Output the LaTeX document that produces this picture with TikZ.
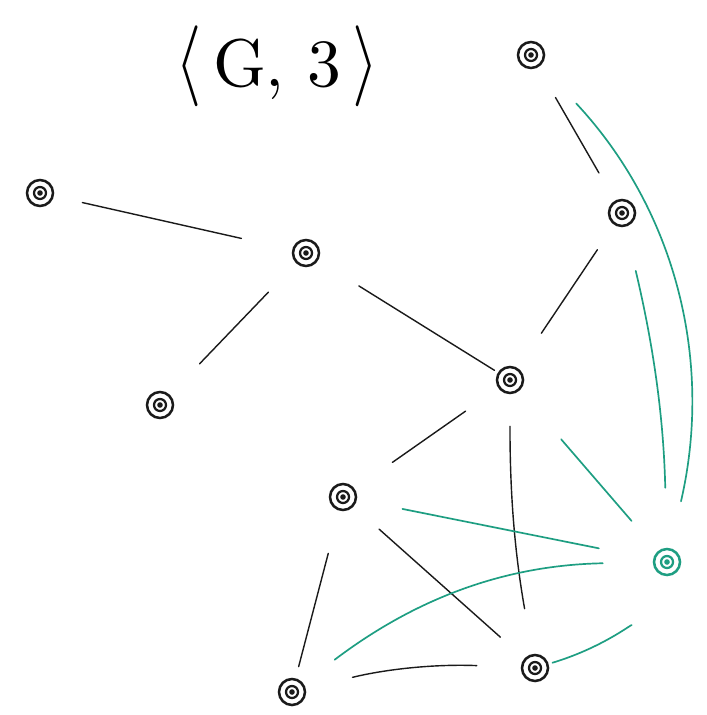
\documentclass[tikz,border=0pt]{standalone}
\usepackage{tikz}
\usetikzlibrary{positioning,arrows.meta,calc}
\definecolor{ink}{HTML}{1A1A1A}
\definecolor{mint}{HTML}{1E9E82}

\begin{document}
\begin{tikzpicture}[x=0.025cm,y=-0.025cm,
  every node/.style={font=\sffamily},
  dot/.style={circle,draw=ink,line width=1.8pt,minimum size=0.65cm,inner sep=0pt,
    path picture={\draw[ink,line width=1.6pt] (path picture bounding box.center) circle (0.15cm);
                  \fill[ink] (path picture bounding box.center) circle (0.07cm);}},
  gdot/.style={circle,draw=mint,line width=1.8pt,minimum size=0.65cm,inner sep=0pt,
    path picture={\draw[mint,line width=1.6pt] (path picture bounding box.center) circle (0.15cm);
                  \fill[mint] (path picture bounding box.center) circle (0.07cm);}},
  ln/.style={ink,line width=1pt,line cap=round},
  gl/.style={mint,line width=1.2pt,line cap=round}]
\useasboundingbox (0,0) rectangle (706,715);
\node[scale=4.8,inner sep=0pt] (title) at (277,66)
  {$\scalebox{1}[1.2]{$\langle$}\,\mathrm{G},\,3\,\scalebox{1}[1.2]{$\rangle$}$};
\foreach \n/\x/\y in {a/531/55, b/40/193, c/306/253, d/622/213, e/160/405,
  f/510/380, g/343/497, i/292/692, j/535/668}{
    \node[dot] (\n) at (\x,\y) {};
}
\node[gdot] (h) at (667,562) {};
% black edges
\foreach \s/\t/\p/\q in {b/c/0.73/1.3, c/e/1.0/1.07, c/f/1.2/0.1, a/d/0.87/0.8,
  d/f/0.75/1.05, f/g/1.0/1.15, g/j/0.85/0.8, g/i/1.1/0.3}{
    \draw[ln,shorten <=\p cm,shorten >=\q cm] (\s) -- (\t);
}
\draw[ln,shorten <=0.8cm,shorten >=1.15cm] (f) to[bend right=5] (j);
\draw[ln,shorten <=1.2cm,shorten >=1.1cm] (i) to[bend left=8] (j);
% green edges
\draw[gl,shorten <=1.3cm,shorten >=1.2cm] (a) to[bend left=28] (h);
\draw[gl,shorten <=1.13cm,shorten >=1.5cm] (d) to[bend left=6] (h);
\draw[gl,shorten <=1.6cm,shorten >=1.0cm] (f) -- (h);
\draw[gl,shorten <=1.16cm,shorten >=1.38cm] (g) -- (h);
\draw[gl,shorten <=0.98cm,shorten >=1.25cm] (i) to[bend left=18] (h);
\draw[gl,shorten <=0.1cm,shorten >=1.45cm] (j) to[bend right=22] (h);
\end{tikzpicture}
\end{document}
